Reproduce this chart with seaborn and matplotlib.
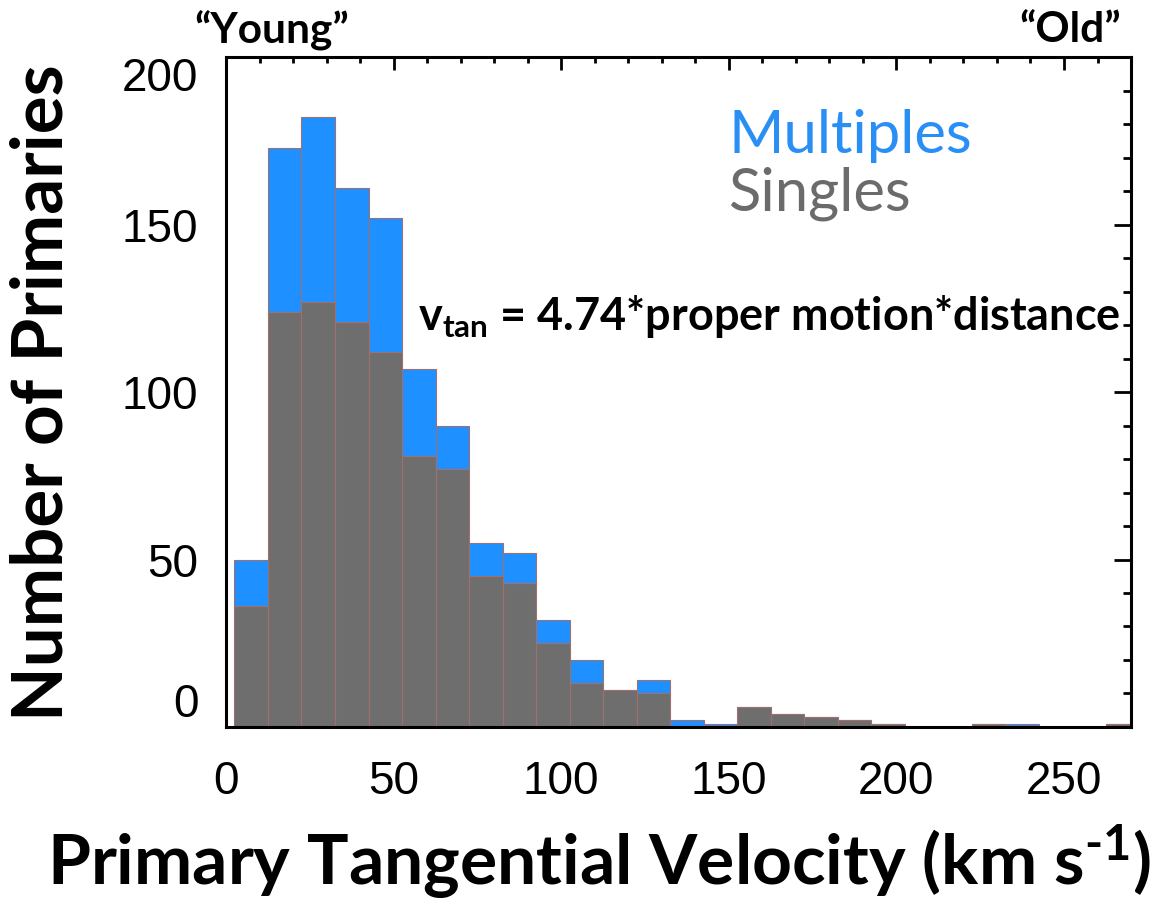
import numpy as np
import pandas as pd
import matplotlib
matplotlib.use("Agg")
import matplotlib.pyplot as plt
from matplotlib.ticker import MultipleLocator
import seaborn as sns

# Histogram of primary tangential velocities, 10 km/s bins
bin_edges = [2.5, 12.5, 22.5, 32.5, 42.5, 52.5, 62.5, 72.5, 82.5, 92.5, 102.5,
             112.5, 122.5, 132.5, 142.5, 152.5, 162.5, 172.5, 182.5, 192.5,
             202.5, 212.5, 222.5, 232.5, 242.5, 252.5, 262.5, 272.5]
singles = [36, 124, 127, 121, 112, 81, 77, 45, 43, 25, 13, 11, 10, 0, 0,
           6, 4, 3, 2, 1, 0, 0, 1, 0, 0, 0, 1]
multiples = [14, 49, 55, 40, 40, 26, 13, 10, 9, 7, 7, 0, 4, 2, 1,
             0, 0, 0, 0, 0, 0, 0, 0, 1, 0, 0, 0]
x_ticks = [0, 50, 100, 150, 200, 250]
y_ticks = [0, 50, 100, 150, 200]

centers = [(a + b) / 2 for a, b in zip(bin_edges[:-1], bin_edges[1:])]
df = pd.DataFrame({
    "velocity": centers * 2,
    "count": multiples + singles,
    "kind": ["Multiples"] * len(centers) + ["Singles"] * len(centers),
})

sns.set_style("white")
plt.rcParams["font.family"] = ["Lato", "DejaVu Sans"]
plt.rcParams["mathtext.fontset"] = "custom"
plt.rcParams["mathtext.rm"] = "Lato:bold"
plt.rcParams["mathtext.it"] = "Lato:bold"
plt.rcParams["mathtext.bf"] = "Lato:bold"
for key in ("text.color", "axes.labelcolor", "xtick.color", "ytick.color"):
    plt.rcParams[key] = "black"

BLUE = "#1e90ff"
GRAY = "#6e6e6e"

fig = plt.figure(figsize=(11.61, 9.06), dpi=100)
ax = fig.add_axes([0.1947, 0.1976, 0.9742 - 0.1947, 0.937 - 0.1976])

sns.histplot(data=df, x="velocity", weights="count", hue="kind",
             hue_order=["Multiples", "Singles"], multiple="stack",
             bins=bin_edges, palette={"Multiples": BLUE, "Singles": GRAY},
             alpha=1, edgecolor="#a07070", linewidth=0.8, legend=False, ax=ax)

ax.set_xlim(0, 270)
ax.set_ylim(0, 200)
ax.set_xticks(x_ticks)
ax.set_yticks(y_ticks)
ax.set_xticklabels([str(t) for t in x_ticks], family="Liberation Sans")
ax.set_yticklabels([str(t) for t in y_ticks], family="Liberation Sans")
ax.xaxis.set_minor_locator(MultipleLocator(10))
ax.yaxis.set_minor_locator(MultipleLocator(10))

ax.tick_params(which="both", direction="in", top=True, right=True,
               width=2, color="black", labelsize=33)
ax.tick_params(axis="y", which="major", length=12, pad=20)
ax.tick_params(axis="y", which="minor", length=6)
ax.tick_params(axis="x", which="major", length=9, pad=24)
ax.tick_params(axis="x", which="minor", length=4.5)
ylabels = ax.get_yticklabels()
ylabels[0].set_va("bottom")
ylabels[-1].set_va("top")

for s in ax.spines.values():
    s.set_linewidth(2.2)
    s.set_color("black")

ax.set_xlabel("Primary Tangential Velocity (km s$^{\\mathrm{\u2010}1}$)",
              fontsize=50, fontweight="bold")
ax.set_ylabel("Number of Primaries", fontsize=51, fontweight="bold")
ax.xaxis.label.set_va("center")
ax.yaxis.label.set_va("center")
ax.xaxis.set_label_coords(0.412, -0.2015)
ax.yaxis.set_label_coords(-0.2033, 0.4985)

ax.text(0.0503, 1.040, "\u201cYoung\u201d", transform=ax.transAxes,
        ha="center", va="center", fontsize=30.5, fontweight="bold")
ax.text(0.9326, 1.040, "\u201cOld\u201d", transform=ax.transAxes,
        ha="center", va="center", fontsize=30.5, fontweight="bold")

ax.text(0.5547, 0.8567, "Multiples", transform=ax.transAxes, ha="left",
        va="baseline", fontsize=43, color="#2a8ff5")
ax.text(0.5547, 0.7716, "Singles", transform=ax.transAxes, ha="left",
        va="baseline", fontsize=43, color="#6b6b6b")

ax.text(0.2122, 0.5925,
        r"$\mathrm{v}_{\mathrm{tan}}$ = 4.74*proper motion*distance",
        transform=ax.transAxes, ha="left", va="baseline", fontsize=32.4,
        fontweight="bold")

fig.savefig("out.png", dpi=100)
